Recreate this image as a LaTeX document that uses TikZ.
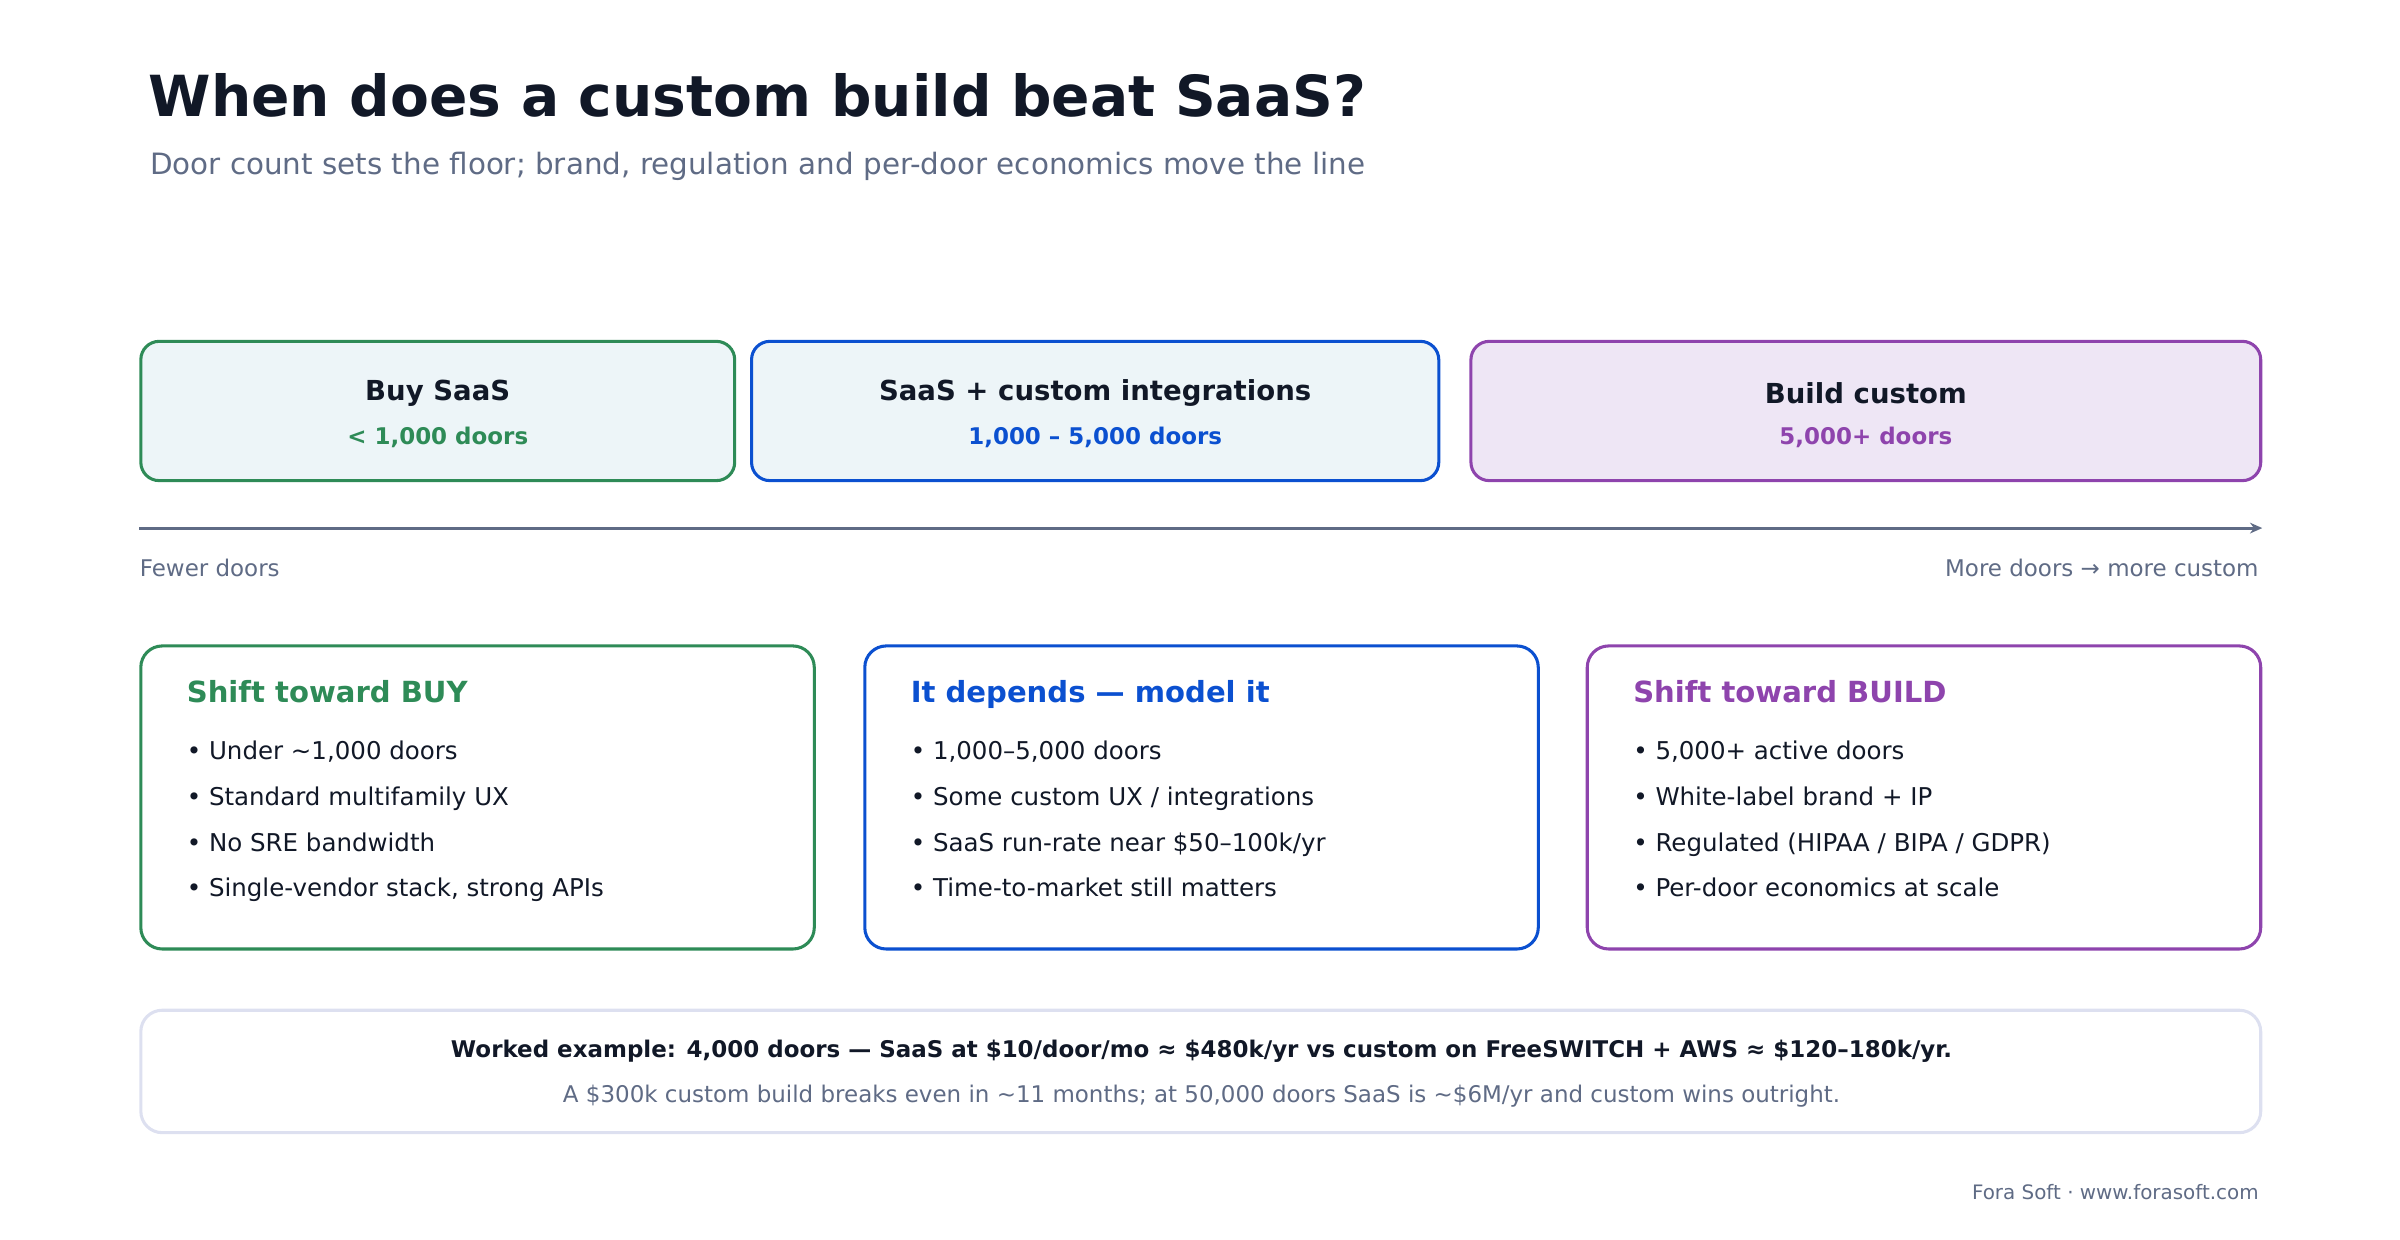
\documentclass[tikz,border=0pt]{standalone}
\usepackage{fontspec}
\setmainfont{DejaVu Sans}
\usetikzlibrary{arrows.meta, positioning}
\definecolor{ink}{HTML}{111827}
\definecolor{muted}{HTML}{5F6B85}
\definecolor{buyc}{HTML}{2E8B57}
\definecolor{midc}{HTML}{0B50D0}
\definecolor{buildc}{HTML}{8E44AD}
\definecolor{palebl}{HTML}{EDF5F8}
\definecolor{palepu}{HTML}{EEE6F5}
\definecolor{frame}{HTML}{DDE0F0}

\begin{document}
\begin{tikzpicture}[
    x=0.5pt, y=-0.5pt,
    band/.style = {rectangle, rounded corners=6pt, line width=1pt, anchor=north west, inner sep=0pt},
    card/.style = {rectangle, rounded corners=7pt, line width=1pt, anchor=north west, inner sep=0pt, fill=white},
    head/.style = {font=\bfseries\fontsize{9}{11}\selectfont, text=ink},
    doors/.style = {font=\bfseries\fontsize{7.5}{9}\selectfont},
    chead/.style = {font=\bfseries\fontsize{9.5}{11}\selectfont, anchor=base west},
    item/.style = {font=\fontsize{8}{10}\selectfont, text=ink, anchor=base west},
    pil/.style = {muted, line width=1pt, -{Stealth[length=4pt,width=3.5pt]}},
    ]
  \useasboundingbox (0,0) rectangle (1568,810);

  \node[anchor=base west, font=\bfseries\fontsize{18.5}{22}\selectfont, text=ink] (title) at (90,76) {When does a custom build beat SaaS?};
  \node[anchor=base west, font=\fontsize{9.6}{12}\selectfont, text=muted] (subtitle) at (91,114) {Door count sets the floor; brand, regulation and per-door economics move the line};

  % bands along the axis
  \node[band, draw=buyc, fill=palebl, minimum width=194pt, minimum height=45.5pt] (buy) at (91,222) {};
  \node[band, draw=midc, fill=palebl, minimum width=224.5pt, minimum height=45.5pt] (mid) at (490,222) {};
  \node[band, draw=buildc, fill=palepu, minimum width=258pt, minimum height=45.5pt] (build) at (960,222) {};
  \foreach \b/\t/\r/\c in {buy/Buy SaaS/{< 1,000 doors}/buyc, mid/SaaS + custom integrations/{1,000 – 5,000 doors}/midc, build/Build custom/{5,000+ doors}/buildc} {
    \node[head] (\b-t) at ([yshift=-17.5pt]\b.north) {\t};
    \node[doors, text=\c] (\b-r) at ([yshift=-32pt]\b.north) {\r};
  }

  % axis
  \coordinate (axL) at (91,345);
  \coordinate (axR) at (1478,345);
  \draw[pil] (axL) -- (axR);
  \node[anchor=west, font=\fontsize{7.5}{9}\selectfont, text=muted, inner sep=0pt] (fewer) at (91,371) {Fewer doors};
  \node[anchor=east, font=\fontsize{7.5}{9}\selectfont, text=muted, inner sep=0pt] (more) at (1476,371) {More doors → more custom};

  % verdict cards
  \node[card, draw=buyc, minimum width=220pt, minimum height=99pt] (cbuy) at (91,421) {};
  \node[card, draw=midc, minimum width=220pt, minimum height=99pt] (cmid) at (564,421) {};
  \node[card, draw=buildc, minimum width=220pt, minimum height=99pt] (cbuild) at (1036,421) {};

  \node[chead, text=buyc] (hbuy) at (115,459) {Shift toward BUY};
  \node[item] at (115,496) {• Under \textasciitilde1,000 doors};
  \node[item] at (115,526) {• Standard multifamily UX};
  \node[item] at (115,556) {• No SRE bandwidth};
  \node[item] at (115,586) {• Single-vendor stack, strong APIs};

  \node[chead, text=midc] (hmid) at (588,459) {It depends — model it};
  \node[item] at (588,496) {• 1,000–5,000 doors};
  \node[item] at (588,526) {• Some custom UX / integrations};
  \node[item] at (588,556) {• SaaS run-rate near \$50–100k/yr};
  \node[item] at (588,586) {• Time-to-market still matters};

  \node[chead, text=buildc] (hbuild) at (1060,459) {Shift toward BUILD};
  \node[item] at (1060,496) {• 5,000+ active doors};
  \node[item] at (1060,526) {• White-label brand + IP};
  \node[item] at (1060,556) {• Regulated (HIPAA / BIPA / GDPR)};
  \node[item] at (1060,586) {• Per-door economics at scale};

  % worked example
  \node[card, draw=frame, minimum width=692.5pt, minimum height=40pt] (example) at (91,659) {};
  \node[font=\bfseries\fontsize{7.5}{9}\selectfont, text=ink] (ex1) at (785,687) {Worked example: 4,000 doors — SaaS at \$10/door/mo ≈ \$480k/yr vs custom on FreeSWITCH + AWS ≈ \$120–180k/yr.};
  \node[font=\fontsize{7.5}{9}\selectfont, text=muted] (ex2) at (785,716) {A \$300k custom build breaks even in \textasciitilde11 months; at 50,000 doors SaaS is \textasciitilde\$6M/yr and custom wins outright.};

  \node[anchor=east, font=\fontsize{6.5}{8}\selectfont, text=muted, inner sep=0pt] (footer) at (1476,779) {Fora Soft · www.forasoft.com};
\end{tikzpicture}
\end{document}
